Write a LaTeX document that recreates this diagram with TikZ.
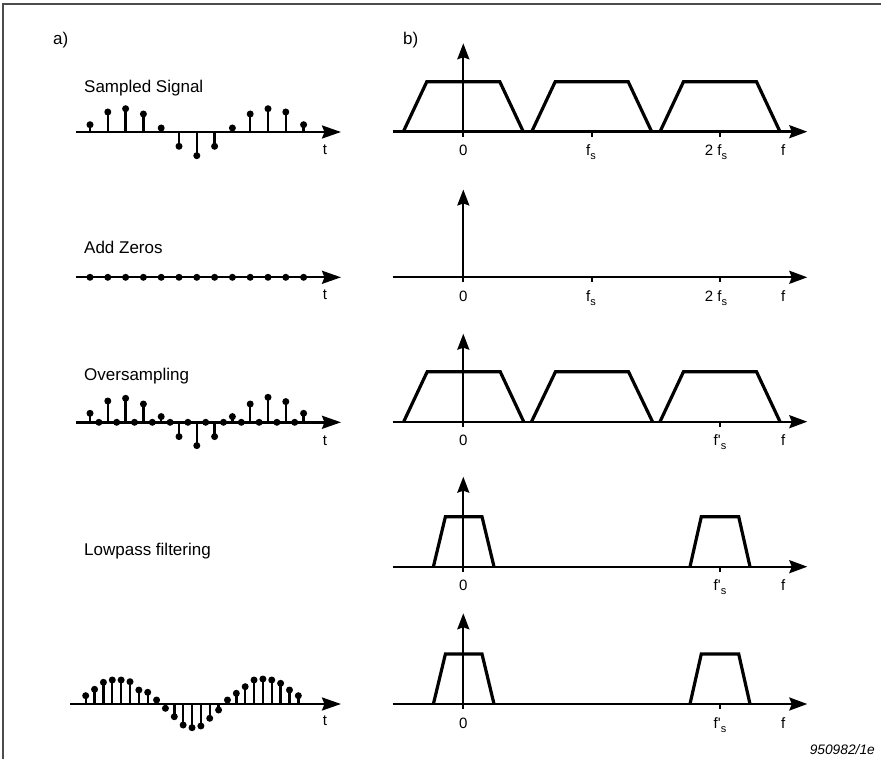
\documentclass[tikz,border=0pt]{standalone}
\usepackage{fontspec}
\setmainfont{Liberation Sans}
\newfontfamily\plainsans{Liberation Sans}
\usetikzlibrary{arrows.meta}
\tikzset{
  frameline/.style={line width=1.4pt, draw=black!70},
  taxis/.style={line width=2.4pt, -{Stealth[length=19pt,width=13pt,inset=2.5pt]}},
  faxis/.style={line width=2.4pt, -{Stealth[length=18pt,width=13pt,inset=2.5pt]}},
  vaxis/.style={line width=2pt, -{Stealth[length=16pt,width=12pt,inset=2pt]}},
  trap/.style={line width=3.2pt, line join=miter},
  stem/.style={line width=2.4pt},
  tickmark/.style={line width=2pt},
  title/.style={font=\fontsize{17}{20}\selectfont, anchor=base west, inner sep=0pt},
  tlabel/.style={font=\fontsize{15}{18}\selectfont, anchor=base, inner sep=0pt},
}
\newcommand\fsub[1]{\raisebox{-4pt}{\fontsize{11}{12}\selectfont #1}}
\newcommand\fprime{{\plainsans\symbol{39}}}
\newcommand\stemdot[3]{%
  \pgfmathsetmacro\ytop{#2-(#3)}%
  \draw[stem] (#1,#2) -- (#1,\ytop);
  \fill (#1,\ytop) circle[radius=3.5pt];}
\newcommand\trapz[5]{%
  \draw[trap] (#1-#3,#2) -- (#1-#4,#2-#5) -- (#1+#4,#2-#5) -- (#1+#3,#2);}
\begin{document}
\begin{tikzpicture}[x=1pt,y=-1pt]
\useasboundingbox (0,0) rectangle (881,759);
% frame
\draw[frameline] (3,759) -- (3,4) -- (881,4);
% panel labels
\node[title] (pa) at (53,45) {a)};
\node[title] (pb) at (403,45) {b)};
% ---------- column a ----------
\node[title] (ti1) at (84,93) {Sampled Signal};
\node[title] (ti2) at (84,253.3) {Add Zeros};
\node[title] (ti3) at (84,380) {Oversampling};
\node[title] (ti4) at (84,555.7) {Lowpass filtering};
% row 1
\coordinate (ta1s) at (76,132);
\coordinate (ta1e) at (341,132);
\foreach \h [count=\i from 0] in {7.3,20,23.3,18,4,-14.3,-23.7,-14.3,4,18,23.3,20,7.3}{
  \pgfmathsetmacro\xx{90+17.8*\i}
  \stemdot{\xx}{132}{\h}
}
\draw[taxis] (ta1s) -- (ta1e);
\node[tlabel] (tl1) at (325,155) {t};
% row 2
\coordinate (ta2s) at (76,277.3);
\coordinate (ta2e) at (341,277.3);
\draw[taxis] (ta2s) -- (ta2e);
\foreach \i in {0,...,12}{
  \pgfmathsetmacro\xx{90+17.8*\i}
  \fill (\xx,277.3) circle[radius=3.5pt];
}
\node[tlabel] (tl2) at (325,300) {t};
% row 3
\coordinate (ta3s) at (76,422.3);
\coordinate (ta3e) at (341,422.3);
\foreach \h [count=\i from 0] in {9,21.3,24,18.3,5.7,-14.3,-23.3,-14.3,5.7,18.3,25,20.7,9}{
  \pgfmathsetmacro\xx{90+17.8*\i}
  \stemdot{\xx}{422.3}{\h}
}
\foreach \i in {0,...,11}{
  \pgfmathsetmacro\xx{98.9+17.8*\i}
  \fill (\xx,422.3) circle[radius=3.5pt];
}
\draw[taxis] (ta3s) -- (ta3e);
\node[tlabel] (tl3) at (325,445) {t};
% row 5
\coordinate (ta5s) at (70,704);
\coordinate (ta5e) at (341,704);
\foreach \h [count=\i from 0] in {8.3,14.7,21.7,24,24,22.3,14,11.7,4,-4.3,-12.7,-21,-23.7,-22,-14.3,-6,4,10.7,17.3,24,25,24,20.7,14,8.3}{
  \pgfmathsetmacro\xx{85.7+8.86*\i}
  \stemdot{\xx}{704}{\h}
}
\draw[taxis] (ta5s) -- (ta5e);
\node[tlabel] (tl5) at (325,725) {t};
% ---------- column b ----------
% row 1
\coordinate (fa1s) at (392.7,131.7);
\coordinate (fa1e) at (807.3,131.7);
\draw[faxis] (fa1s) -- (fa1e);
\draw[tickmark] (591.7,131.7) -- (591.7,136.7);
\draw[tickmark] (720,131.7) -- (720,136.7);
\trapz{463.3}{131.7}{60}{36.5}{50}
\trapz{591.7}{131.7}{60}{36.5}{50}
\trapz{720}{131.7}{60}{36.5}{50}
\coordinate (va1s) at (463.3,136.7);
\coordinate (va1e) at (463.3,43.3);
\draw[vaxis] (va1s) -- (va1e);
\node[tlabel] (l10) at (463.3,155.7) {0};
\node[tlabel] (l11) at (591,155.7) {f\fsub{s}};
\node[tlabel] (l12) at (716,155.7) {2 f\fsub{s}};
\node[tlabel] (l13) at (783.3,155.7) {f};
% row 2
\coordinate (fa2s) at (392.7,277.3);
\coordinate (fa2e) at (807.3,277.3);
\draw[faxis] (fa2s) -- (fa2e);
\draw[tickmark] (591.7,277.3) -- (591.7,282.3);
\draw[tickmark] (720,277.3) -- (720,282.3);
\coordinate (va2s) at (463.3,282.3);
\coordinate (va2e) at (463.3,189.5);
\draw[vaxis] (va2s) -- (va2e);
\node[tlabel] (l20) at (463.3,301.3) {0};
\node[tlabel] (l21) at (591,301.3) {f\fsub{s}};
\node[tlabel] (l22) at (716,301.3) {2 f\fsub{s}};
\node[tlabel] (l23) at (783.3,301.3) {f};
% row 3
\coordinate (fa3s) at (392.7,421.7);
\coordinate (fa3e) at (807.3,421.7);
\draw[faxis] (fa3s) -- (fa3e);
\draw[tickmark] (720,421.7) -- (720,426.7);
\trapz{463.7}{421.7}{60}{36.5}{50}
\trapz{592}{421.7}{60.5}{36.5}{50}
\trapz{720}{421.7}{60}{36.5}{50}
\coordinate (va3s) at (463.3,426.7);
\coordinate (va3e) at (463.3,333.7);
\draw[vaxis] (va3s) -- (va3e);
\node[tlabel] (l30) at (463.3,445.7) {0};
\node[tlabel] (l31) at (720,445.7) {f\fprime\fsub{s}};
\node[tlabel] (l32) at (783.3,445.7) {f};
% row 4
\coordinate (fa4s) at (392.7,566.7);
\coordinate (fa4e) at (807.3,566.7);
\draw[faxis] (fa4s) -- (fa4e);
\draw[tickmark] (720,566.7) -- (720,571.7);
\trapz{463.7}{566.7}{30.3}{18.3}{50}
\trapz{720}{566.7}{30}{18.7}{50}
\coordinate (va4s) at (463.3,571.7);
\coordinate (va4e) at (463.3,476.7);
\draw[vaxis] (va4s) -- (va4e);
\node[tlabel] (l40) at (463.3,590.7) {0};
\node[tlabel] (l41) at (720,590.7) {f\fprime\fsub{s}};
\node[tlabel] (l42) at (783.3,590.7) {f};
% row 5
\coordinate (fa5s) at (392.7,704);
\coordinate (fa5e) at (807.3,704);
\draw[faxis] (fa5s) -- (fa5e);
\draw[tickmark] (720,704) -- (720,709);
\trapz{463.7}{704}{30.3}{18.3}{50}
\trapz{720}{704}{30}{18.7}{50}
\coordinate (va5s) at (463.3,709);
\coordinate (va5e) at (463.3,613.3);
\draw[vaxis] (va5s) -- (va5e);
\node[tlabel] (l50) at (463.3,728) {0};
\node[tlabel] (l51) at (720,728) {f\fprime\fsub{s}};
\node[tlabel] (l52) at (783.3,728) {f};
% figure code
\node[font=\fontsize{13.75}{16}\selectfont\itshape, anchor=base east, inner sep=0pt] (code) at (875,754.5) {950982/1e};
\end{tikzpicture}
\end{document}
